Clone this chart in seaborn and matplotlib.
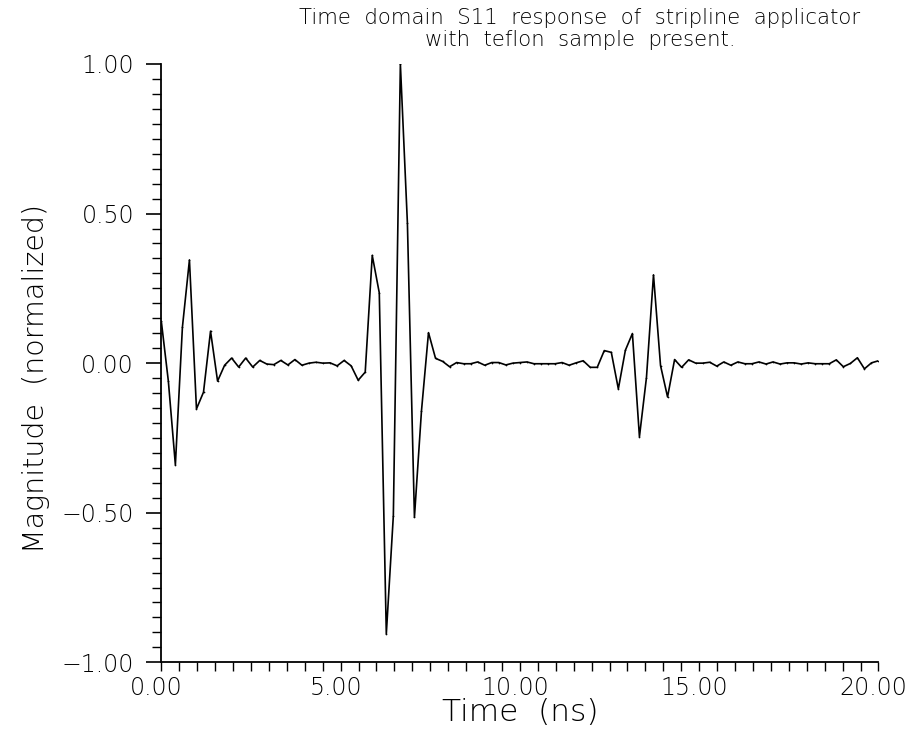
import numpy as np
import pandas as pd
import matplotlib
matplotlib.use("Agg")
import matplotlib.pyplot as plt
import matplotlib.transforms as mtransforms
import seaborn as sns
from matplotlib.ticker import MultipleLocator, FuncFormatter

title_text = "Time  domain  S11  response  of  stripline  applicator\nwith  teflon  sample  present."
x_label = "Time  (ns)"
y_label = "Magnitude  (normalized)"

magnitude = [
    0.140, -0.060, -0.340, 0.120, 0.345, -0.153, -0.097, 0.107, -0.060, -0.007,
    0.017, -0.013, 0.017, -0.013, 0.009, -0.003, -0.005, 0.009, -0.006, 0.012,
    -0.007, 0.000, 0.003, 0.000, 0.001, -0.009, 0.009, -0.009, -0.057, -0.030,
    0.360, 0.235, -0.905, -0.510, 1.000, 0.468, -0.515, -0.160, 0.102, 0.016,
    0.006, -0.012, 0.002, -0.002, -0.002, 0.004, -0.007, 0.002, 0.002, -0.006,
    0.000, 0.002, 0.004, -0.002, -0.002, -0.002, -0.002, 0.002, -0.007, 0.001,
    0.008, -0.014, -0.014, 0.042, 0.036, -0.086, 0.043, 0.099, -0.246, -0.048,
    0.295, -0.008, -0.113, 0.012, -0.014, 0.011, 0.000, 0.000, 0.003, -0.010,
    0.004, -0.007, 0.004, -0.002, -0.002, 0.004, -0.003, 0.004, -0.003, 0.001,
    0.001, -0.003, 0.001, -0.002, -0.002, -0.002, 0.011, -0.012, -0.001, 0.018,
    -0.019, 0.001, 0.008,
]
time_start, time_end = 0.0, 20.0
time_ns = np.linspace(time_start, time_end, len(magnitude))

df = pd.DataFrame({"time": time_ns, "magnitude": magnitude})

sns.set_style("ticks")
plt.rcParams["font.family"] = ["DejaVu Sans"]
plt.rcParams["font.weight"] = "light"
plt.rcParams["axes.labelweight"] = "light"
for key in ["text.color", "axes.labelcolor", "xtick.color", "ytick.color",
            "axes.edgecolor"]:
    plt.rcParams[key] = "black"

fig = plt.figure(figsize=(9.15, 7.32), dpi=100)
ax = fig.add_axes([0.1763, 0.0952, 0.9601 - 0.1763, 0.9126 - 0.0952])

sns.lineplot(data=df, x="time", y="magnitude", ax=ax, color="black",
             linewidth=1.2, marker=".", markersize=2.5, markeredgewidth=0)

ax.set_xlim(0, 20)
ax.set_ylim(-1, 1)
ax.xaxis.set_major_locator(MultipleLocator(5))
ax.xaxis.set_minor_locator(MultipleLocator(0.5))
ax.yaxis.set_major_locator(MultipleLocator(0.5))
ax.yaxis.set_minor_locator(MultipleLocator(0.05))
fmt = FuncFormatter(lambda v, p: f"{v:.2f}".replace("-", "\u2212"))
ax.xaxis.set_major_formatter(fmt)
ax.yaxis.set_major_formatter(fmt)

for s in ["top", "right"]:
    ax.spines[s].set_visible(False)
for s in ["left", "bottom"]:
    ax.spines[s].set_linewidth(1.3)
    ax.spines[s].set_color("black")

ax.tick_params(axis="x", which="both", direction="out", length=6.5, width=1.0,
               labelsize=17, pad=3, colors="black")
ax.tick_params(axis="y", which="major", direction="out", length=10.6, width=1.2,
               labelsize=17, pad=9, colors="black")
ax.tick_params(axis="y", which="minor", direction="out", length=6.7, width=1.0)

offset = mtransforms.ScaledTranslation(-5 / 100, 0, fig.dpi_scale_trans)
for lab in ax.get_xticklabels():
    lab.set_transform(lab.get_transform() + offset)

ax.set_xlabel(x_label, fontsize=22.5, labelpad=-1, fontweight="light")
ax.set_ylabel(y_label, fontsize=20.5, fontweight="light")
ax.yaxis.set_label_coords(-0.155, 0.475)

fig.text(580 / 915, 1 - 8 / 732, title_text, ha="center", va="top",
         fontsize=15.3, linespacing=1.1, fontweight="light")

fig.savefig("out.png", dpi=100)
